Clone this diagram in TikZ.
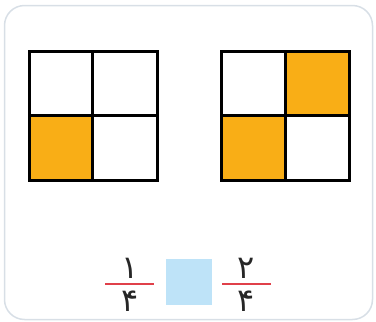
\documentclass[tikz,border=0pt]{standalone}
\usepackage{fontspec}
\newfontfamily\arabicfont[Script=Arabic]{DejaVu Sans}
\TeXXeTstate=1
\definecolor{cellfill}{HTML}{F9AE16}
\definecolor{boxblue}{HTML}{BEE3F8}
\definecolor{fracred}{HTML}{E0404A}
\definecolor{frame}{HTML}{D8DFE6}
\begin{document}
\begin{tikzpicture}[x=1pt,y=-1pt,
  gridline/.style={line width=3pt, black},
  shade/.style={fill=cellfill},
  digit/.style={font=\arabicfont\fontsize{32}{32}\selectfont, inner sep=0pt, text=black!85},
  barline/.style={fracred, line width=2.6pt}]
\useasboundingbox (0,0) rectangle (376,322);
\node[draw=frame, line width=1.5pt, rounded corners=20pt, minimum width=368pt, minimum height=314pt, inner sep=0pt] (frame) at (188.5,162.5) {};
% left grid
\fill[shade] (29,115) rectangle (92,180);
\coordinate (L1) at (29,51); \coordinate (L2) at (157,180);
\draw[gridline] (L1) rectangle (L2);
\draw[gridline] (92,51) -- (92,180);
\draw[gridline] (29,115) -- (157,115);
% right grid
\fill[shade] (221,115) rectangle (285,180);
\fill[shade] (285,51) rectangle (349,115);
\coordinate (R1) at (221,51); \coordinate (R2) at (349,180);
\draw[gridline] (R1) rectangle (R2);
\draw[gridline] (285,51) -- (285,180);
\draw[gridline] (221,115) -- (349,115);
% blue box
\node[fill=boxblue, minimum width=46pt, minimum height=46pt, inner sep=0pt] (box) at (189,282) {};
% fractions
\draw[barline] (105,284) -- (154,284);
\node[digit] (n1) at (130,268) {\beginR ۱\endR};
\node[digit] (d1) at (130,301) {\beginR ۴\endR};
\draw[barline] (222,284) -- (271,284);
\node[digit] (n2) at (246,268) {\beginR ۲\endR};
\node[digit] (d2) at (246,301) {\beginR ۴\endR};
\end{tikzpicture}
\end{document}
